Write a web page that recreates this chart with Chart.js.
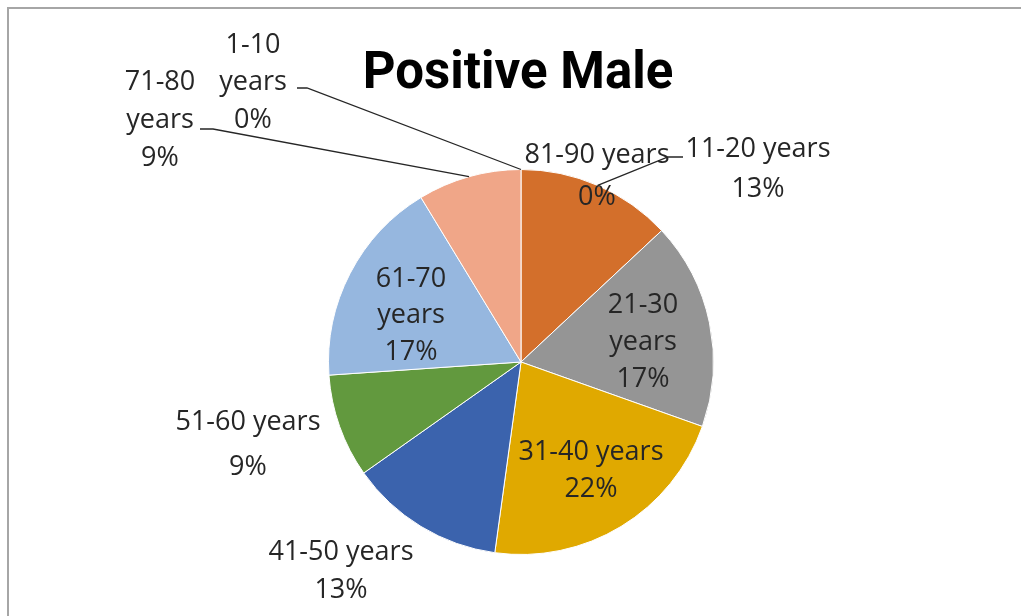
<!DOCTYPE html>
<html>
<head>
<meta charset="utf-8">
<script src="https://cdn.jsdelivr.net/npm/chart.js@4"></script>
<style>
  html, body { margin: 0; padding: 0; background: #fff; }
  #wrap { position: relative; width: 1021px; height: 616px; }
</style>
</head>
<body>
<div id="wrap"><canvas id="myChart" width="1021" height="616"></canvas></div>
<script>
// age groups and counts of positive males
var ageGroups = ['1-10 years', '11-20 years', '21-30 years', '31-40 years', '41-50 years',
                 '51-60 years', '61-70 years', '71-80 years', '81-90 years'];
var counts = [0, 3, 4, 5, 3, 2, 4, 2, 0];
var sliceColors = ['#4472C4', '#D36F2B', '#959595', '#E0A900', '#3B63AD',
                   '#62993E', '#96B7DF', '#F0A688', '#2E75B6'];

// where each data label sits: text lines, centre x, baselines, optional leader stub
var labelLayout = [
    { lines: ['1-10', 'years', '0%'], x: 253, ys: [53, 90, 128], stub: [297, 88, 307] },
    { lines: ['11-20 years', '13%'], x: 758, ys: [157, 197], stub: [683, 157, 668] },
    { lines: ['21-30', 'years', '17%'], x: 643, ys: [313, 350, 387] },
    { lines: ['31-40 years', '22%'], x: 591, ys: [460, 497] },
    { lines: ['41-50 years', '13%'], x: 341, ys: [560, 598] },
    { lines: ['51-60 years', '9%'], x: 248, ys: [430, 475] },
    { lines: ['61-70', 'years', '17%'], x: 411, ys: [287, 323, 360] },
    { lines: ['71-80', 'years', '9%'], x: 160, ys: [90, 128, 166], stub: [200, 129, 213] },
    { lines: ['81-90 years', '0%'], x: 597, ys: [163, 205] }
];

var frameAndLabels = {
    id: 'frameAndLabels',
    beforeDraw: function(chart) {
        var c = chart.ctx;
        c.save();
        c.fillStyle = '#fff';
        c.fillRect(0, 0, chart.width, chart.height);
        c.strokeStyle = '#a6a6a6';
        c.lineWidth = 2;
        c.beginPath();
        c.moveTo(8, chart.height);
        c.lineTo(8, 8);
        c.lineTo(chart.width, 8);
        c.stroke();
        c.restore();
    },
    afterDraw: function(chart) {
        var c = chart.ctx;
        var meta = chart.getDatasetMeta(0);
        c.save();
        // title
        c.fillStyle = '#000';
        c.font = 'bold 51px Roboto';
        c.textAlign = 'center';
        c.textBaseline = 'alphabetic';
        c.fillText('Positive Male', 518, 88);

        c.font = '27px "Open Sans"';
        c.fillStyle = '#262626';
        labelLayout.forEach(function(lab, i) {
            lab.lines.forEach(function(t, k) {
                c.fillText(t, lab.x, lab.ys[k]);
            });
            if (lab.stub) {
                var arc = meta.data[i];
                var mid = (arc.startAngle + arc.endAngle) / 2;
                var px = arc.x + Math.cos(mid) * arc.outerRadius;
                var py = arc.y + Math.sin(mid) * arc.outerRadius;
                c.strokeStyle = '#262626';
                c.lineWidth = 1.3;
                c.beginPath();
                c.moveTo(lab.stub[0], lab.stub[1]);
                c.lineTo(lab.stub[2], lab.stub[1]);
                c.lineTo(px, py);
                c.stroke();
            }
        });
        c.restore();
    }
};

var ctx = document.getElementById('myChart').getContext('2d');
var myChart = new Chart(ctx, {
    type: 'pie',
    data: {
        labels: ageGroups,
        datasets: [{
            data: counts,
            backgroundColor: sliceColors,
            borderColor: '#ffffff',
            borderWidth: 1
        }]
    },
    options: {
        responsive: false,
        animation: false,
        layout: { padding: { top: 169, bottom: 61, left: 21, right: 0 } },
        plugins: {
            legend: { display: false },
            tooltip: { enabled: false }
        }
    },
    plugins: [frameAndLabels]
});
</script>
</body>
</html>
